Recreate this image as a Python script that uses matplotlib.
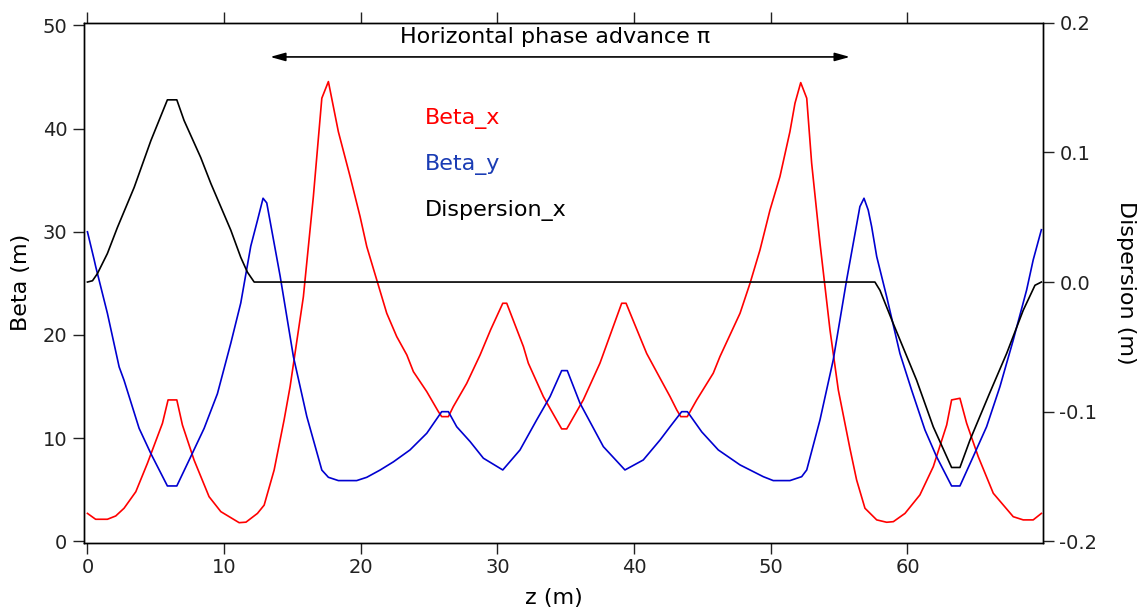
import matplotlib
matplotlib.use("Agg")
import matplotlib.pyplot as plt

plt.rcParams['font.family'] = ['DejaVu Sans']
plt.rcParams['axes.unicode_minus'] = False

# Beta_x (m)
z_bx = [0, 0.6, 1.46, 2.07, 2.68, 3.54, 4.39, 5.49, 5.9, 6.54, 6.95, 7.8, 8.9, 9.76, 11.1, 11.6,
        12.44, 12.93, 13.66, 14.39, 14.83, 15.8, 16.53, 17.15, 17.63, 18.36, 19.22, 19.95, 20.44,
        21.17, 21.9, 22.63, 23.37, 23.85, 24.83, 25.68, 25.92, 26.41, 26.77, 27.75, 28.73, 29.5,
        30.39, 30.68, 31.9, 32.26, 33.36, 34.7, 35.07, 36.28, 37.5, 39.09, 39.41, 40.92, 41.9,
        42.63, 43.12, 43.41, 43.89, 44.58, 45.79, 46.28, 47.75, 48.48, 49.21, 49.94, 50.67, 51.4,
        51.77, 52.19, 52.63, 52.99, 53.6, 54.33, 54.94, 55.79, 56.28, 56.89, 57.75, 58.48, 58.97,
        59.82, 60.91, 61.89, 62.87, 63.23, 63.84, 64.33, 65.18, 66.28, 67.74, 68.47, 69.2, 69.8]
beta_x = [2.7, 2.13, 2.13, 2.45, 3.2, 4.8, 7.56, 11.44, 13.7, 13.7, 11.27, 7.88, 4.32, 2.87, 1.8, 1.85,
          2.7, 3.5, 6.9, 11.76, 15.0, 23.7, 33.4, 42.95, 44.56, 39.7, 35.35, 31.47, 28.56,
          25.33, 22.1, 19.84, 18.06, 16.44, 14.5, 12.56, 12.08, 12.08, 13.05, 15.3, 18.06, 20.5,
          23.07, 23.07, 18.87, 17.26, 14.02, 10.89, 10.89, 13.7, 17.26, 23.07, 23.07, 18.2, 15.8,
          14.02, 12.73, 12.08, 12.08, 13.7, 16.29, 17.9, 22.1, 25.0, 28.24, 32.1, 35.35, 39.7,
          42.46, 44.46, 42.95, 36.65, 28.9, 20.5, 14.67, 9.0, 5.94, 3.2, 2.07, 1.84, 1.9,
          2.7, 4.49, 7.23, 11.27, 13.7, 13.86, 11.44, 8.2, 4.65, 2.38, 2.07, 2.07, 2.7]

# Beta_y (m)
z_by = [0, 0.49, 0.61, 1.46, 2.32, 2.68, 3.78, 4.64, 5.85, 6.54, 7.56, 8.54, 9.51, 10.49, 11.22,
        11.95, 12.44, 12.85, 13.12, 14.1, 15.07, 16.05, 17.15, 17.63, 18.36, 19.7, 20.44, 21.41,
        22.39, 23.6, 24.83, 25.92, 26.41, 27.02, 28.0, 28.97, 30.39, 31.65, 32.87, 33.85, 34.7,
        35.11, 36.04, 37.75, 39.33, 40.67, 41.9, 42.63, 43.48, 43.9, 44.95, 46.16, 47.75, 49.45,
        50.18, 51.4, 52.26, 52.63, 53.6, 54.57, 55.55, 56.52, 56.82, 57.13, 57.38, 57.75, 58.48,
        59.45, 60.3, 61.28, 62.13, 63.23, 63.84, 64.81, 65.79, 66.77, 67.74, 68.72, 69.2, 69.8]
beta_y = [30.0, 27.3, 26.6, 22.1, 16.9, 15.6, 10.95, 8.5, 5.36, 5.36, 8.2, 10.95, 14.3, 19.2, 23.1,
          28.6, 31.1, 33.25, 32.8, 25.7, 17.9, 12.1, 6.9, 6.2, 5.88, 5.88, 6.2, 6.9,
          7.7, 8.85, 10.47, 12.56, 12.56, 11.1, 9.66, 8.05, 6.91, 8.85, 11.76, 14.02, 16.54,
          16.54, 13.38, 9.17, 6.91, 7.88, 9.82, 11.1, 12.56, 12.56, 10.6, 8.85, 7.4, 6.26,
          5.88, 5.88, 6.26, 6.91, 11.76, 17.58, 25.33, 32.44, 33.25, 32.1, 30.5, 27.6, 23.7,
          18.2, 14.67, 10.79, 8.2, 5.36, 5.36, 8.2, 11.1, 15.0, 19.5, 24.36, 27.27, 30.2]

# Dispersion_x (m)
z_dx = [0, 0.37, 0.73, 1.46, 2.19, 3.42, 4.64, 5.85, 6.54, 7.07, 8.29, 9.03, 10.49, 11.22, 11.7,
        12.2, 57.62, 57.99, 58.96, 60.67, 61.89, 63.23, 63.84, 64.57, 66.0, 67.26, 68.47, 69.33, 69.8]
disp_x = [0.0, 0.001, 0.0065, 0.022, 0.042, 0.073, 0.109, 0.1405, 0.1405, 0.1246, 0.096, 0.076,
          0.040, 0.019, 0.0077, 0.0, 0.0, -0.0064, -0.032, -0.0757, -0.1117, -0.143, -0.143,
          -0.122, -0.086, -0.055, -0.0218, -0.0025, 0.0]

x_ticks = [0, 10, 20, 30, 40, 50, 60]
beta_ticks = [0, 10, 20, 30, 40, 50]
disp_ticks = [-0.2, -0.1, 0.0, 0.1, 0.2]
disp_ticklabels = ['-0.2', '-0.1', '0.0', '0.1', '0.2']

red = '#ff0000'
blue = '#0000d0'
blue_text = '#1a3cb4'

fig = plt.figure(figsize=(11.4, 6.13), dpi=100)
ax = fig.add_axes([0.0737, 0.1147, 0.841, 0.8483])
ax2 = ax.twinx()

ax.plot(z_bx, beta_x, color=red, lw=1.2)
ax.plot(z_by, beta_y, color=blue, lw=1.2)
ax2.plot(z_dx, disp_x, color='black', lw=1.2)

ax.set_xlim(-0.25, 69.9)
ax.set_ylim(-0.14, 50.27)
ax2.set_ylim(-0.201, 0.2)

ax.set_xticks(x_ticks)
ax.set_yticks(beta_ticks)
ax2.set_yticks(disp_ticks)
ax2.set_yticklabels(disp_ticklabels)

for a in (ax, ax2):
    a.tick_params(direction='out', length=8, width=1, labelsize=14, pad=4, colors='#222222')
    for s in a.spines.values():
        s.set_linewidth(1.0)
ax.tick_params(axis='x', top=True, labeltop=False, pad=3)
ax.tick_params(axis='y', right=False)

ax.set_xlabel('z (m)', fontsize=16)
ax.xaxis.set_label_coords(0.49, -0.088)
ax.set_ylabel('Beta (m)', fontsize=16)
ax.yaxis.set_label_coords(-0.055, 0.5)
ax2.set_ylabel('Dispersion (m)', fontsize=16, rotation=270)
ax2.yaxis.set_label_coords(1.097, 0.5)

ax.annotate('', xy=(13.37, 46.95), xytext=(55.79, 46.95),
            arrowprops=dict(arrowstyle='<|-|>,head_length=0.9,head_width=0.25',
                            color='black', lw=1.2, shrinkA=0, shrinkB=0))
ax.text(34.2, 48.85, 'Horizontal phase advance π', ha='center', va='center', fontsize=16)

ax.text(24.7, 41.0, 'Beta_x', color=red, fontsize=16, ha='left', va='center')
ax.text(24.7, 36.5, 'Beta_y', color=blue_text, fontsize=16, ha='left', va='center')
ax.text(24.7, 32.1, 'Dispersion_x', color='black', fontsize=16, ha='left', va='center')

fig.savefig('out.png', dpi=100)
